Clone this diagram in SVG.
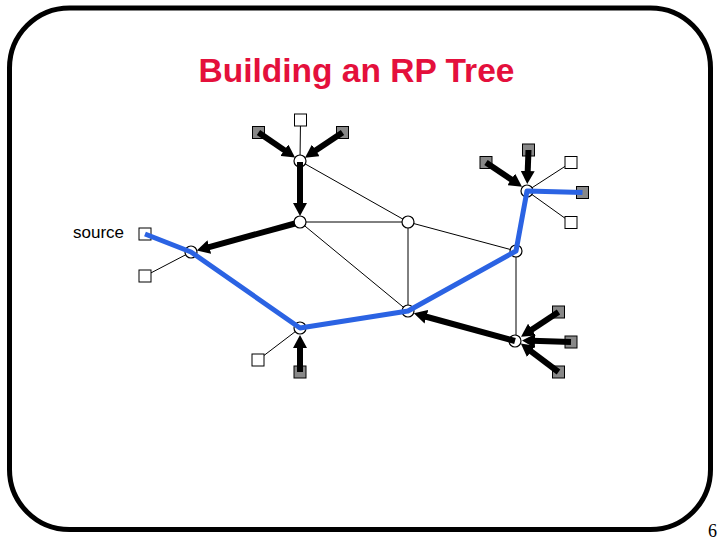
<svg xmlns="http://www.w3.org/2000/svg" width="720" height="540" viewBox="0 0 720 540">
<style>
.thin{stroke:#000;stroke-width:1;fill:none}
.router{fill:#fff;stroke:#000;stroke-width:1.2}
.host{fill:#fff;stroke:#000;stroke-width:1}
.member{fill:#888;stroke:#000;stroke-width:1}
.tree{stroke:#2b63e3;stroke-width:5;fill:none;stroke-linejoin:round}
.join{stroke:#000;stroke-width:6;fill:none;marker-end:url(#ah)}
.title{font-family:"Liberation Sans",Arial,sans-serif;font-weight:bold;font-size:33.5px;fill:#e4103c}
.lbl{font-family:"Liberation Sans",Arial,sans-serif;font-size:17px;fill:#000}
.pg{font-family:"Liberation Serif","Times New Roman",serif;font-size:18px;fill:#000}
</style>
<defs>
<marker id="ah" viewBox="0 0 13 14" markerWidth="13" markerHeight="14" markerUnits="userSpaceOnUse" refX="3" refY="7" orient="auto">
<path d="M0,0 L13,7 L0,14 z" fill="#000"/>
</marker>
</defs>
<rect x="9.5" y="8" width="701" height="521.5" rx="60" ry="60" fill="#fff" stroke="#000" stroke-width="5"/>
<text class="title" x="356.5" y="82" text-anchor="middle">Building an RP Tree</text>
<text class="pg" x="712.5" y="537" text-anchor="middle">6</text>
<g id="links">
<line class="thin" x1="300.5" y1="120" x2="300" y2="161"/>
<line class="thin" x1="300" y1="161" x2="408" y2="222"/>
<line class="thin" x1="300" y1="222" x2="408" y2="222"/>
<line class="thin" x1="300" y1="222" x2="408" y2="311"/>
<line class="thin" x1="408" y1="222" x2="408" y2="311"/>
<line class="thin" x1="408" y1="222" x2="516" y2="251"/>
<line class="thin" x1="516" y1="251" x2="516" y2="340"/>
<line class="thin" x1="191" y1="252" x2="145" y2="276"/>
<line class="thin" x1="300" y1="328" x2="258" y2="360"/>
<line class="thin" x1="527" y1="191" x2="571" y2="162.5"/>
<line class="thin" x1="527" y1="191" x2="571" y2="222.5"/>
</g>
<g id="routers">
<circle id="rA" class="router" cx="300" cy="161" r="6"/>
<circle id="rB" class="router" cx="300" cy="222" r="6"/>
<circle id="rC" class="router" cx="408" cy="222" r="6"/>
<circle id="rD" class="router" cx="516" cy="251" r="6"/>
<circle id="rE" class="router" cx="191" cy="252" r="6"/>
<circle id="rF" class="router" cx="300" cy="328" r="6"/>
<circle id="rG" class="router" cx="408" cy="311" r="6"/>
<circle id="rH" class="router" cx="515" cy="341" r="6"/>
<circle id="rI" class="router" cx="527" cy="191" r="6"/>
</g>
<g id="hosts">
<rect id="h1" class="host" x="294.5" y="114" width="12" height="12"/>
<rect id="h2" class="member" x="252.5" y="126.5" width="12" height="12"/>
<rect id="h3" class="member" x="336.5" y="126.5" width="12" height="12"/>
<rect id="h4" class="member" x="480" y="156.5" width="12" height="12"/>
<rect id="h5" class="member" x="522.5" y="144" width="12" height="12"/>
<rect id="h6" class="host" x="565" y="156.5" width="12" height="12"/>
<rect id="h7" class="member" x="576.5" y="186.5" width="12" height="12"/>
<rect id="h8" class="host" x="565" y="216.5" width="12" height="12"/>
<rect id="src" class="host" x="139" y="228" width="12" height="12"/>
<rect id="h9" class="host" x="139" y="270" width="12" height="12"/>
<rect id="h10" class="host" x="252" y="354" width="12" height="12"/>
<rect id="h11" class="member" x="294" y="366" width="12" height="12"/>
<rect id="h12" class="member" x="552.5" y="306" width="12" height="12"/>
<rect id="h13" class="member" x="565" y="336" width="12" height="12"/>
<rect id="h14" class="member" x="552.5" y="366" width="12" height="12"/>
<text class="lbl" x="73" y="238">source</text>
</g>
<g id="connectors">
<polyline class="tree" points="145,234 191,252 300,328 408,311 516,251 527,191 582.5,192.5"/>
<line class="join" x1="258.5" y1="132.5" x2="286.8" y2="151.9"/>
<line class="join" x1="342.5" y1="132.5" x2="313.3" y2="152.1"/>
<line class="join" x1="300" y1="162" x2="300" y2="206"/>
<line class="join" x1="295" y1="223.5" x2="206.4" y2="247.8"/>
<line class="join" x1="300" y1="372" x2="300" y2="345"/>
<line class="join" x1="515" y1="341" x2="423.5" y2="316"/>
<line class="join" x1="558.5" y1="312" x2="529.4" y2="331.2"/>
<line class="join" x1="571" y1="342" x2="532" y2="340.8"/>
<line class="join" x1="558.5" y1="372" x2="528.8" y2="349.6"/>
<line class="join" x1="486" y1="162.5" x2="513.7" y2="181.1"/>
<line class="join" x1="528.5" y1="150" x2="527.6" y2="174"/>
</g>
</svg>
